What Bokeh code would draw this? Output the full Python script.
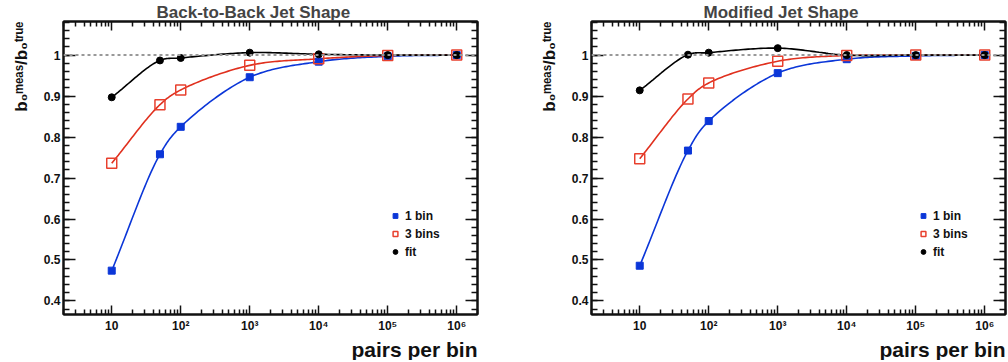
import numpy as np
from bokeh.plotting import figure
from bokeh.layouts import row
from bokeh.models import (Range1d, FixedTicker, LogAxis, LinearAxis, Span, Legend,
                          LegendItem, CustomJSTickFormatter, Title)
from bokeh.embed import file_html
from bokeh.resources import INLINE

# ---------------- data ----------------
pairs = [10, 50, 100, 1e3, 1e4, 1e5, 1e6]

b2b_one_bin = [0.474, 0.758, 0.825, 0.946, 0.984, 0.997, 1.0]
b2b_three_bins = [0.736, 0.879, 0.915, 0.975, 0.991, 0.999, 1.0]
b2b_fit = [0.897, 0.987, 0.993, 1.006, 1.002, 1.0, 1.0]

mod_one_bin = [0.486, 0.767, 0.839, 0.956, 0.990, 0.998, 1.0]
mod_three_bins = [0.747, 0.893, 0.932, 0.985, 0.999, 1.0, 1.0]
mod_fit = [0.914, 1.001, 1.006, 1.017, 1.0, 1.0, 1.0]

titles = ["Back-to-Back Jet Shape", "Modified Jet Shape"]
legend_labels = ["1 bin", "3 bins", "fit"]

x_ticks = [10, 100, 1e3, 1e4, 1e5, 1e6]
x_tick_labels = ["10", "10\u00b2", "10\u00b3", "10\u2074", "10\u2075", "10\u2076"]
y_ticks = [0.4, 0.5, 0.6, 0.7, 0.8, 0.9, 1.0]
y_tick_labels = ["0.4", "0.5", "0.6", "0.7", "0.8", "0.9", "1"]

x_label = "pairs per bin"
y_label = "b\u2080\u1d50\u1d49\u1d43\u02e2/b\u2080\u1d57\u02b3\u1d58\u1d49"

X_MIN, X_MAX = 2.0, 2.0e6
Y_MIN, Y_MAX = 0.367, 1.082

BLUE = "#0b36d8"
RED = "#e0301e"
BLACK = "#000000"
FONT = "Liberation Sans"


def smooth_curve(xs, ys, n=30):
    """Centripetal Catmull-Rom curve through the data points (log-x, screen-like scaling)."""
    sx, sy = 69.06, 409.0
    P = np.column_stack([np.log10(xs) * sx, np.asarray(ys, dtype=float) * sy])
    P = np.vstack([2 * P[0] - P[1], P, 2 * P[-1] - P[-2]])
    out = []
    for i in range(1, len(P) - 2):
        p0, p1, p2, p3 = P[i - 1], P[i], P[i + 1], P[i + 2]
        t0 = 0.0
        t1 = t0 + np.linalg.norm(p1 - p0) ** 0.5
        t2 = t1 + np.linalg.norm(p2 - p1) ** 0.5
        t3 = t2 + np.linalg.norm(p3 - p2) ** 0.5
        t = np.linspace(t1, t2, n, endpoint=(i == len(P) - 3))[:, None]
        A1 = (t1 - t) / (t1 - t0) * p0 + (t - t0) / (t1 - t0) * p1
        A2 = (t2 - t) / (t2 - t1) * p1 + (t - t1) / (t2 - t1) * p2
        A3 = (t3 - t) / (t3 - t2) * p2 + (t - t2) / (t3 - t2) * p3
        B1 = (t2 - t) / (t2 - t0) * A1 + (t - t0) / (t2 - t0) * A2
        B2 = (t3 - t) / (t3 - t1) * A2 + (t - t1) / (t3 - t1) * A3
        C = (t2 - t) / (t2 - t1) * B1 + (t - t1) / (t2 - t1) * B2
        out.append(C)
    C = np.vstack(out)
    return list(10 ** (C[:, 0] / sx)), list(C[:, 1] / sy)


def x_minor_ticks():
    ticks = []
    for e in range(0, 7):
        for k in range(2, 10):
            v = k * 10 ** e
            if X_MIN <= v <= X_MAX:
                ticks.append(v)
    return ticks


def y_minor_ticks():
    return [round(0.38 + 0.02 * i, 2) for i in range(0, 36) if 0.38 + 0.02 * i <= Y_MAX]


def style_axis(ax, major_in, minor_in):
    ax.major_tick_in = major_in
    ax.major_tick_out = 0
    ax.minor_tick_in = minor_in
    ax.minor_tick_out = 0
    ax.major_tick_line_color = "#111111"
    ax.minor_tick_line_color = "#111111"
    ax.major_tick_line_width = 1.5
    ax.minor_tick_line_width = 1.5
    ax.axis_line_color = "#111111"
    ax.axis_line_width = 2
    ax.major_label_text_font = FONT
    ax.major_label_text_font_style = "bold"
    ax.major_label_text_font_size = "12px"
    ax.major_label_text_color = "#111111"


def make_panel(title, one_bin, three_bins, fit, min_left, min_right, title_offset):
    p = figure(
        x_axis_type="log",
        x_range=Range1d(X_MIN, X_MAX),
        y_range=Range1d(Y_MIN, Y_MAX),
        frame_width=414, frame_height=293,
        min_border_left=min_left, min_border_right=min_right,
        min_border_top=17, min_border_bottom=20,
        output_backend="svg", toolbar_location=None,
        background_fill_color="white", border_fill_color="white",
    )
    p.xgrid.visible = False
    p.ygrid.visible = False
    p.outline_line_color = "#111111"
    p.outline_line_width = 2

    p.title.text = title
    p.title.text_font = FONT
    p.title.text_font_style = "bold"
    p.title.text_font_size = "17px"
    p.title.align = "left"
    p.title.offset = title_offset
    p.title.standoff = 0

    xt = FixedTicker(ticks=x_ticks, minor_ticks=x_minor_ticks())
    yt = FixedTicker(ticks=y_ticks, minor_ticks=y_minor_ticks())

    xa = p.xaxis[0]
    xa.ticker = xt
    xa.major_label_overrides = {float(v): s for v, s in zip(x_ticks, x_tick_labels)}
    style_axis(xa, 9, 5)
    xa.major_label_standoff = 4

    ya = p.yaxis[0]
    ya.ticker = yt
    ya.major_label_overrides = {float(v): s for v, s in zip(y_ticks, y_tick_labels)}
    style_axis(ya, 12, 6)
    ya.major_label_standoff = 3

    empty = CustomJSTickFormatter(code="return ''")
    top = LogAxis(ticker=xt, formatter=empty)
    style_axis(top, 9, 5)
    top.major_label_standoff = 0
    p.add_layout(top, "above")
    right = LinearAxis(ticker=yt, formatter=empty)
    style_axis(right, 12, 6)
    right.major_label_standoff = 0
    p.add_layout(right, "right")

    # axis titles, right-aligned to the axis ends (ROOT style)
    p.add_layout(Title(text=x_label, align="right", text_font=FONT, text_font_style="bold",
                       text_font_size="21px", text_color="#111111", standoff=0), "below")
    p.add_layout(Title(text=y_label, align="right", text_font=FONT, text_font_style="bold",
                       text_font_size="17px", text_color="#111111", standoff=19), "left")

    p.add_layout(Span(location=1.0, dimension="width", line_color="#999999",
                      line_width=2, line_dash="3 3"))

    bx, by = smooth_curve(pairs, one_bin)
    rx, ry = smooth_curve(pairs, three_bins)
    kx, ky = smooth_curve(pairs, fit)
    p.line(bx, by, line_color=BLUE, line_width=1.6)
    p.line(rx, ry, line_color=RED, line_width=1.6)
    p.line(kx, ky, line_color=BLACK, line_width=1.6)

    r1 = p.scatter(pairs, one_bin, marker="square", size=7, fill_color=BLUE, line_color=BLUE)
    r3 = p.scatter(pairs, three_bins, marker="square", size=10, fill_color=None,
                   line_color="#e8402e", line_width=1.5)
    rf = p.scatter(pairs, fit, marker="circle", size=7, fill_color=BLACK, line_color=BLACK)

    legend = Legend(
        items=[LegendItem(label=legend_labels[0], renderers=[r1]),
               LegendItem(label=legend_labels[1], renderers=[r3]),
               LegendItem(label=legend_labels[2], renderers=[rf])],
        location=(326, 54),
        border_line_color=None, background_fill_alpha=0,
        label_text_font=FONT, label_text_font_style="bold", label_text_font_size="12px",
        label_text_color="#111111",
        glyph_width=12, glyph_height=17, label_height=17, spacing=1,
        padding=0, margin=0, label_standoff=4,
    )
    p.add_layout(legend)
    return p


p1 = make_panel(titles[0], b2b_one_bin, b2b_three_bins, b2b_fit, 62, 28, 93)
p2 = make_panel(titles[1], mod_one_bin, mod_three_bins, mod_fit, 86, 4, 112)

layout = row(p1, p2)
open("out.html", "w").write(file_html(layout, INLINE))
